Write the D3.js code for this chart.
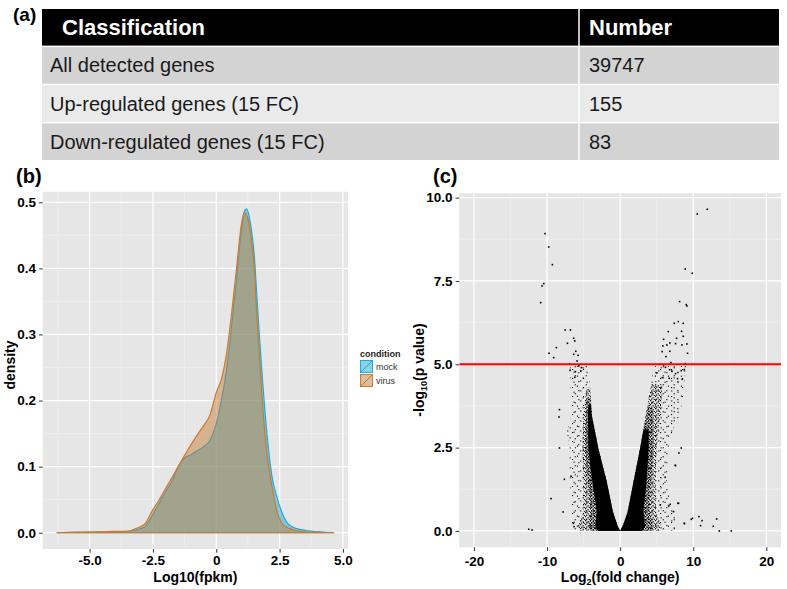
<!DOCTYPE html>
<html><head><meta charset="utf-8">
<script src="https://cdn.jsdelivr.net/npm/d3@7"></script>
<style>body{margin:0;background:#fff;} svg{display:block;font-family:"Liberation Sans",Arial,sans-serif;}</style>
</head><body><svg id="c" width="787" height="589"></svg>
<script>
// ---------------- DATA ----------------
const tableHeader = ["Classification", "Number"];
const tableRows = ["All detected genes", "Up-regulated genes (15 FC)", "Down-regulated genes (15 FC)"];
const tableNumbers = ["39747", "155", "83"];

const densityX     = [-6.3,-5.5,-5.0,-4.5,-4.0,-3.5,-3.2,-3.0,-2.8,-2.5,-2.25,-2.0,-1.75,-1.5,-1.25,-1.0,-0.75,-0.5,-0.25,0,0.2,0.4,0.6,0.8,1.0,1.1,1.2,1.3,1.4,1.5,1.6,1.7,1.8,2.0,2.2,2.4,2.6,2.8,3.0,3.3,3.6,4.0,4.3,4.65];
const mockDensity  = [0,0.0005,0.001,0.001,0.0015,0.002,0.004,0.006,0.01,0.028,0.045,0.062,0.078,0.1,0.113,0.118,0.124,0.13,0.14,0.165,0.2,0.245,0.31,0.385,0.46,0.485,0.49,0.478,0.455,0.42,0.36,0.30,0.245,0.15,0.085,0.053,0.03,0.015,0.009,0.005,0.003,0.0015,0.0005,0];
const virusDensity = [0,0.001,0.001,0.0015,0.002,0.002,0.006,0.009,0.014,0.035,0.05,0.067,0.083,0.1,0.117,0.133,0.148,0.162,0.178,0.212,0.232,0.27,0.33,0.40,0.468,0.484,0.48,0.466,0.44,0.40,0.33,0.27,0.21,0.12,0.07,0.032,0.014,0.008,0.005,0.002,0.001,0.0005,0.0003,0];
const densityXTicks = [-5, -2.5, 0, 2.5, 5];
const densityXLabels = ["-5.0", "-2.5", "0", "2.5", "5.0"];
const densityYTicks = [0, 0.1, 0.2, 0.3, 0.4, 0.5];
const densityYLabels = ["0.0", "0.1", "0.2", "0.3", "0.4", "0.5"];
const conditions = ["mock", "virus"];

const volcanoXTicks = [-20, -10, 0, 10, 20];
const volcanoXLabels = ["-20", "-10", "0", "10", "20"];
const volcanoYTicks = [0, 2.5, 5, 7.5, 10];
const volcanoYLabels = ["0.0", "2.5", "5.0", "7.5", "10.0"];
const pThreshold = 5;

// outlines of the dense point clouds (log2FC, -log10 p), from sparse outer halo to solid core
const rightSparse = [[0,0],[0.9,0.45],[1.8,1.45],[2.7,2.45],[3.3,3.2],[3.9,4.0],[4.6,4.95],[9.0,4.95],[8.7,4.2],[8.2,3.5],[7.2,3.0],[6.6,2.5],[6.4,1.5],[6.9,0.8],[7.8,0.3],[7.5,0]];
const rightDense  = [[0,0],[0.9,0.45],[1.8,1.45],[2.7,2.45],[3.3,3.2],[3.9,4.0],[4.3,4.4],[5.8,4.4],[5.5,3.5],[5.0,2.5],[4.8,1.5],[4.9,0.6],[5.6,0.12],[5.2,0]];
const rightMid    = [[0,0],[0.9,0.45],[1.8,1.45],[2.7,2.45],[3.3,3.2],[3.7,3.7],[4.5,3.7],[4.6,2.45],[4.2,1.45],[4.0,0.6],[4.5,0.12],[4.2,0]];
const rightCore   = [[0,0],[0.35,0.15],[1.05,0.6],[1.8,1.45],[2.7,2.45],[3.2,3.05],[3.9,3.05],[3.9,2.45],[3.6,1.45],[3.2,0.6],[3.4,0.12],[3.0,0]];
const leftSparse  = [[0,0],[-0.9,0.45],[-1.82,1.47],[-2.97,2.47],[-3.88,3.47],[-4.0,3.85],[-4.3,4.95],[-6.9,4.95],[-6.8,4.2],[-6.6,3.5],[-7.3,3.0],[-7.0,2.5],[-6.9,1.5],[-6.6,0.7],[-6.8,0.2],[-6.2,0]];
const leftDense   = [[0,0],[-0.9,0.45],[-1.82,1.47],[-2.97,2.47],[-3.88,3.47],[-4.1,4.3],[-4.6,4.3],[-5.0,3.5],[-5.2,2.5],[-5.0,1.5],[-5.0,0.6],[-5.8,0.12],[-5.2,0]];
const leftMid     = [[0,0],[-0.9,0.45],[-1.82,1.47],[-2.97,2.47],[-3.88,3.47],[-4.0,4.0],[-4.6,4.0],[-4.7,3.47],[-4.8,2.47],[-4.4,1.47],[-4.0,0.6],[-4.4,0.12],[-4.0,0]];
const leftCore    = [[0,0],[-0.35,0.15],[-1.0,0.6],[-1.82,1.47],[-2.97,2.47],[-3.88,3.47],[-4.0,3.8],[-4.35,3.8],[-4.4,3.47],[-4.35,2.47],[-3.8,1.47],[-3.2,0.6],[-3.4,0.12],[-3.0,0]];
const outlierPoints = [
 [-10.27,8.92],[-9.77,8.52],[-9.27,7.99],[-10.45,7.42],[-10.68,7.35],[-10.87,6.85],
 [-7.53,6.03],[-6.8,6.03],[-6.35,5.78],[-6.21,5.70],[-7.21,5.63],[-8.72,5.50],[-9.73,5.33],[-9.09,5.20],[-6.35,5.30],[-5.75,5.27],[-6.07,5.39],[-5.89,5.10],[-6.9,5.01],[-5.66,4.95],[-5.3,4.90],[-6.85,4.82],[-5.38,4.80],[-6.12,4.78],[-6.21,4.61],
 [10.55,9.51],[11.92,9.65],[8.9,7.86],[9.86,7.73],[8.13,6.88],[9.04,6.79],[9.13,6.75],[7.4,6.23],[7.95,6.28],[8.63,6.23],[6.58,5.98],[8.4,5.99],[8.63,5.84],[5.94,5.75],[7.72,5.78],[7.58,5.62],[8.45,5.58],[9.13,5.61],[6.39,5.58],[6.8,5.64],[5.84,5.55],[5.75,5.38],[6.8,5.39],[9.22,5.33],[6.26,5.23],[5.43,5.0],[5.94,4.98],[6.94,5.05],[8.9,5.02],[6.2,4.91],[5.02,4.74],[6.76,4.84],[7.08,4.79],[8.36,4.81],[8.77,4.84],[7.58,4.72],[7.85,4.57],[8.49,4.55],[6.71,4.58],[5.84,4.6],
 [-8.3,3.64],[-8.36,3.42],[-8.3,2.49],[-7.63,1.55],[-9.45,0.97],[-7.8,0.57],[-12.5,0.05],[-12.05,0.03],[-6.4,0.23],[-6.3,0.13],[-6.7,1.64],
 [8.36,2.49],[7.58,1.96],[7.9,0.83],[9.9,0.38],[10.78,0.43],[11.2,0.31],[11.0,0.16],[12.74,0.14],[13.2,0.36],[13.56,0.0],[15.2,0.0],[8.8,0.22],[6.67,0.76],[8.04,2.34],[7.53,1.97],[6.16,1.61],[7.99,0.83],[6.85,0.8],[5.48,0.78],[7.3,0.58],[9.73,0.35],[8.77,0.23]
];

// ---------------- DRAW ----------------
const svg = d3.select("#c");
const defs = svg.append("defs");

// dot patterns (texture) for dense point clouds
function dotPattern(id, w, h, dots, s) {
  const p = defs.append("pattern").attr("id", id).attr("patternUnits", "userSpaceOnUse").attr("width", w).attr("height", h);
  dots.forEach(d => p.append("rect").attr("x", d[0]).attr("y", d[1]).attr("width", s).attr("height", s).attr("fill", "#000"));
}
dotPattern("sparseA", 11, 9, [[0,0],[6.3,3.1],[2.7,6.2]], 1.1);
dotPattern("sparseB", 13, 10, [[1.5,1.7],[8.2,0.4],[4.9,5.6],[10.6,7.3]], 1.1);
dotPattern("denseC", 5, 4, [[0,0],[2.6,1.2],[1.1,2.5],[3.8,3.1]], 1.2);
dotPattern("midD", 3, 3, [[0,0],[1.6,1.5]], 1.2);

// ---- (a) table ----
svg.append("text").attr("x", 13).attr("y", 21).attr("font-size", 19).attr("font-weight", "bold").text("(a)");
const tX0 = 42, tX1 = 779, tDiv = 579;
const rowY = d3.scaleBand().domain(d3.range(4)).range([9, 160]).paddingInner(0.04);
const rowFill = ["#000", "#d3d3d3", "#eaeaea", "#d3d3d3"];
d3.range(4).forEach(i => {
  svg.append("rect").attr("x", tX0).attr("y", rowY(i)).attr("width", tX1 - tX0).attr("height", rowY.bandwidth()).attr("fill", rowFill[i]);
});
svg.append("line").attr("x1", tDiv).attr("x2", tDiv).attr("y1", 9).attr("y2", 160).attr("stroke", "#fff").attr("stroke-width", 1.5);
svg.append("text").attr("x", 62).attr("y", rowY(0) + rowY.bandwidth()/2 + 8).attr("font-size", 22).attr("font-weight", "bold").attr("fill", "#fff").text(tableHeader[0]);
svg.append("text").attr("x", 589).attr("y", rowY(0) + rowY.bandwidth()/2 + 8).attr("font-size", 22).attr("font-weight", "bold").attr("fill", "#fff").text(tableHeader[1]);
tableRows.forEach((r, i) => {
  const yy = rowY(i + 1) + rowY.bandwidth()/2 + 7;
  svg.append("text").attr("x", 50).attr("y", yy).attr("font-size", 20).attr("fill", "#1a1a1a").text(r);
  svg.append("text").attr("x", 589).attr("y", yy).attr("font-size", 20).attr("fill", "#1a1a1a").text(tableNumbers[i]);
});

// ggplot-like panel helper
function panel(x, y, xMaj, yMaj, xMin, yMin, clipId) {
  const [x0, x1] = x.range(), [y0, y1] = y.range();
  svg.append("rect").attr("x", x0).attr("y", y1).attr("width", x1 - x0).attr("height", y0 - y1).attr("fill", "#e6e6e6");
  const g = svg.append("g");
  xMin.forEach(v => g.append("line").attr("x1", x(v)).attr("x2", x(v)).attr("y1", y1).attr("y2", y0).attr("stroke", "#f2f2f2").attr("stroke-width", 0.6));
  yMin.forEach(v => g.append("line").attr("y1", y(v)).attr("y2", y(v)).attr("x1", x0).attr("x2", x1).attr("stroke", "#f2f2f2").attr("stroke-width", 0.6));
  xMaj.forEach(v => g.append("line").attr("x1", x(v)).attr("x2", x(v)).attr("y1", y1).attr("y2", y0).attr("stroke", "#fff").attr("stroke-width", 1.2));
  yMaj.forEach(v => g.append("line").attr("y1", y(v)).attr("y2", y(v)).attr("x1", x0).attr("x2", x1).attr("stroke", "#fff").attr("stroke-width", 1.2));
  defs.append("clipPath").attr("id", clipId).append("rect").attr("x", x0).attr("y", y1).attr("width", x1 - x0).attr("height", y0 - y1);
}
function axes(x, y, xt, xl, yt, yl, xPad) {
  const [x0] = x.range(), [y0] = y.range();
  const ax = svg.append("g").attr("transform", `translate(0,${y0})`)
    .call(d3.axisBottom(x).tickValues(xt).tickFormat((d, i) => xl[i]).tickSize(3.7).tickPadding(xPad));
  const ay = svg.append("g").attr("transform", `translate(${x0},0)`)
    .call(d3.axisLeft(y).tickValues(yt).tickFormat((d, i) => yl[i]).tickSize(3.7).tickPadding(3));
  [ax, ay].forEach(a => {
    a.select(".domain").remove();
    a.selectAll("line").attr("stroke", "#333");
    a.selectAll("text").attr("font-size", 13.5).attr("font-weight", "bold").attr("fill", "#000").attr("font-family", "Liberation Sans, Arial, sans-serif");
  });
}

// ---- (b) density ----
svg.append("text").attr("x", 16).attr("y", 183).attr("font-size", 20).attr("font-weight", "bold").text("(b)");
const bx = d3.scaleLinear().domain([-6.85, 5.2]).range([42.7, 348]);
const by = d3.scaleLinear().domain([-0.0246, 0.516]).range([549, 191.7]);
panel(bx, by, densityXTicks, densityYTicks, [-6.25, -3.75, -1.25, 1.25, 3.75], [0.05, 0.15, 0.25, 0.35, 0.45], "clipB");
const condStyle = {
  mock:  {fill: "rgb(20,170,215)", line: "#1fa8da", values: mockDensity},
  virus: {fill: "rgb(198,125,60)", line: "#cd7a2c", values: virusDensity}
};
const area = d3.area().x(d => bx(d[0])).y0(by(0)).y1(d => by(d[1])).curve(d3.curveMonotoneX);
const gb = svg.append("g").attr("clip-path", "url(#clipB)");
conditions.forEach(c => {
  const pts = densityX.map((v, i) => [v, condStyle[c].values[i]]);
  gb.append("path").attr("d", area(pts)).attr("fill", condStyle[c].fill).attr("fill-opacity", 0.5)
    .attr("stroke", condStyle[c].line).attr("stroke-width", 1.2);
});
axes(bx, by, densityXTicks, densityXLabels, densityYTicks, densityYLabels, 3);
svg.append("text").attr("x", (bx.range()[0] + bx.range()[1]) / 2).attr("y", 582).attr("text-anchor", "middle")
  .attr("font-size", 14).attr("font-weight", "bold").text("Log10(fpkm)");
svg.append("text").attr("transform", "translate(15,365) rotate(-90)").attr("text-anchor", "middle")
  .attr("font-size", 14).attr("font-weight", "bold").text("density");
// legend
svg.append("text").attr("x", 360).attr("y", 357).attr("font-size", 9).attr("font-weight", "bold").attr("fill", "#222").text("condition");
conditions.forEach((c, i) => {
  const ky = 360 + i * 14;
  svg.append("rect").attr("x", 360).attr("y", ky).attr("width", 13).attr("height", 13).attr("fill", "#f0f0f0");
  svg.append("rect").attr("x", 360.5).attr("y", ky + 0.5).attr("width", 12).attr("height", 12)
    .attr("fill", condStyle[c].fill).attr("fill-opacity", 0.45).attr("stroke", condStyle[c].line).attr("stroke-width", 1);
  svg.append("line").attr("x1", 360.5).attr("y1", ky + 12.5).attr("x2", 372.5).attr("y2", ky + 0.5).attr("stroke", condStyle[c].line).attr("stroke-width", 1);
  svg.append("text").attr("x", 376).attr("y", ky + 10).attr("font-size", 9).attr("fill", "#333").text(c);
});

// ---- (c) volcano ----
svg.append("text").attr("x", 433).attr("y", 183).attr("font-size", 20).attr("font-weight", "bold").text("(c)");
const cx = d3.scaleLinear().domain([-22, 22]).range([459.3, 781]);
const cy = d3.scaleLinear().domain([-0.49, 10.13]).range([547.3, 193.3]);
panel(cx, cy, volcanoXTicks, volcanoYTicks, [-15, -5, 5, 15], [1.25, 3.75, 6.25, 8.75], "clipC");
const gc = svg.append("g").attr("clip-path", "url(#clipC)");
const poly = d3.line().x(d => cx(d[0])).y(d => cy(d[1]));
[[leftSparse, "url(#sparseA)"], [rightSparse, "url(#sparseA)"], [leftSparse, "url(#sparseB)"], [rightSparse, "url(#sparseB)"],
 [leftDense, "url(#denseC)"], [rightDense, "url(#denseC)"], [leftMid, "url(#midD)"], [rightMid, "url(#midD)"],
 [leftCore, "#000"], [rightCore, "#000"]]
  .forEach(([pts, f]) => gc.append("path").attr("d", poly(pts) + "Z").attr("fill", f));
gc.selectAll("rect.pt").data(outlierPoints).join("rect").attr("class", "pt")
  .attr("x", d => cx(d[0]) - 0.8).attr("y", d => cy(d[1]) - 0.8).attr("width", 1.6).attr("height", 1.6).attr("fill", "#000");
gc.append("line").attr("x1", cx.range()[0]).attr("x2", cx.range()[1]).attr("y1", cy(pThreshold)).attr("y2", cy(pThreshold))
  .attr("stroke", "#ff0000").attr("stroke-width", 2);
axes(cx, cy, volcanoXTicks, volcanoXLabels, volcanoYTicks, volcanoYLabels, 5);
const xt = svg.append("text").attr("x", (cx.range()[0] + cx.range()[1]) / 2).attr("y", 582).attr("text-anchor", "middle")
  .attr("font-size", 14).attr("font-weight", "bold");
xt.append("tspan").text("Log");
xt.append("tspan").attr("font-size", 9).attr("dy", 3).text("2");
xt.append("tspan").attr("dy", -3).text("(fold change)");
const yt = svg.append("text").attr("transform", "translate(424,370) rotate(-90)").attr("text-anchor", "middle")
  .attr("font-size", 14).attr("font-weight", "bold");
yt.append("tspan").text("-log");
yt.append("tspan").attr("font-size", 9).attr("dy", 3).text("10");
yt.append("tspan").attr("dy", -3).text("(p value)");
</script></body></html>
